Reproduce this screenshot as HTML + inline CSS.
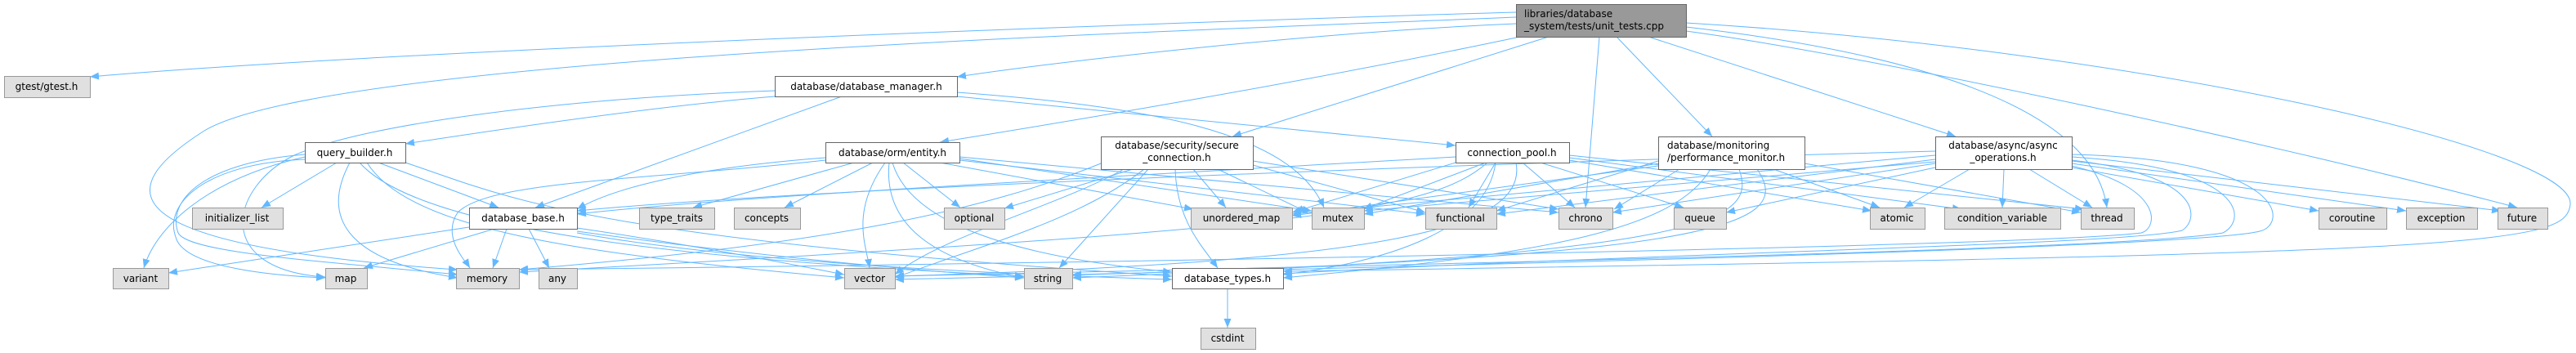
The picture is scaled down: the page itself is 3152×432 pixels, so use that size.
<!DOCTYPE html>
<html><head><meta charset="utf-8"><style>
html,body{margin:0;padding:0;background:#fff;}
svg{display:block;}
text{font-family:"DejaVu Sans","Liberation Sans",sans-serif;font-size:12px;fill:#000;}
.e{fill:none;stroke:#63b8ff;stroke-width:1;marker-end:url(#a);}
.g{fill:#e0e0e0;stroke:#999;}
.w{fill:#fff;stroke:#666;}
</style></head><body>
<svg width="3152" height="432" viewBox="0 0 3152 432" xmlns="http://www.w3.org/2000/svg">
<defs><marker id="a" markerUnits="userSpaceOnUse" markerWidth="12" markerHeight="10" refX="11" refY="5" orient="auto"><path d="M0,0.5 L11,5 L0,9.5 z" fill="#63b8ff"/></marker></defs>
<g>
<path class="e" d="M1855,15 C1500,25 500,60 110,94"/>
<path class="e" d="M1855,21 C1400,40 400,70 250,160 C140,230 120,300 560,330"/>
<path class="e" d="M1855,29 C1600,40 1300,75 1171,94"/>
<path class="e" d="M1860,45 C1600,100 1300,150 1150,174"/>
<path class="e" d="M1895,45 L1508,167"/>
<path class="e" d="M1957,45 L1940,254"/>
<path class="e" d="M1978,45 L2095,167"/>
<path class="e" d="M2017,45 L2393,167"/>
<path class="e" d="M2063,33 C2300,60 2560,120 2578,254"/>
<path class="e" d="M2063,38 C2300,70 2800,180 3080,254"/>
<path class="e" d="M2063,28 C2600,60 3150,180 3145,250 C3140,300 3050,310 1570,332"/>
<path class="e" d="M948,118 C800,130 600,160 496,176"/>
<path class="e" d="M948,111 C700,120 450,150 360,190 C280,230 260,330 398,339"/>
<path class="e" d="M1030,118 L655,254"/>
<path class="e" d="M1171,118 L1781,178"/>
<path class="e" d="M1171,113 C1400,130 1580,160 1620,254"/>
<path class="e" d="M412,199 L320,254"/>
<path class="e" d="M373,192 C250,220 190,280 176,328"/>
<path class="e" d="M373,195 C250,200 200,250 215,290 C225,330 350,338 398,340"/>
<path class="e" d="M373,189 C240,200 205,250 218,285 C230,310 400,320 560,336"/>
<path class="e" d="M428,199 C390,270 430,320 560,340"/>
<path class="e" d="M463,199 L610,254"/>
<path class="e" d="M449,199 C500,280 700,310 1033,340"/>
<path class="e" d="M440,199 C520,290 900,320 1253,338"/>
<path class="e" d="M496,199 C620,240 700,290 1434,338"/>
<path class="e" d="M574,278 L206,334"/>
<path class="e" d="M605,280 L445,328"/>
<path class="e" d="M620,280 L603,328"/>
<path class="e" d="M647,280 L672,328"/>
<path class="e" d="M706,279 C850,300 950,320 1033,336"/>
<path class="e" d="M706,283 C900,310 1100,330 1253,340"/>
<path class="e" d="M706,285 C900,320 1200,335 1434,342"/>
<path class="e" d="M1010,193 C850,205 750,230 706,256"/>
<path class="e" d="M1045,199 L848,254"/>
<path class="e" d="M1068,199 L960,254"/>
<path class="e" d="M1105,199 L1175,254"/>
<path class="e" d="M1150,199 L1460,256"/>
<path class="e" d="M1083,199 C1040,260 1060,300 1064,328"/>
<path class="e" d="M1088,199 C1080,280 1150,320 1253,340"/>
<path class="e" d="M1092,199 C1110,260 1200,310 1434,333"/>
<path class="e" d="M1010,196 C800,220 600,220 560,260 C540,290 570,320 575,328"/>
<path class="e" d="M1174,196 L1744,262"/>
<path class="e" d="M1174,194 L1605,258"/>
<path class="e" d="M1174,192 L1907,260"/>
<path class="e" d="M1386,207 L1229,255"/>
<path class="e" d="M1375,207 C1300,250 1150,290 1095,336"/>
<path class="e" d="M1400,207 C1320,270 1200,300 1095,340"/>
<path class="e" d="M1405,207 L1296,328"/>
<path class="e" d="M1438,207 C1440,270 1470,300 1490,328"/>
<path class="e" d="M1460,207 L1500,254"/>
<path class="e" d="M1490,207 L1600,260"/>
<path class="e" d="M1347,200 C1200,260 1000,300 635,330"/>
<path class="e" d="M1533,202 L1744,260"/>
<path class="e" d="M1533,197 L1907,256"/>
<path class="e" d="M1781,192 C1300,220 900,240 706,262"/>
<path class="e" d="M1818,199 L1668,256"/>
<path class="e" d="M1830,199 L1797,254"/>
<path class="e" d="M1863,199 L1927,254"/>
<path class="e" d="M1885,199 L2060,254"/>
<path class="e" d="M1820,199 C1750,260 1600,280 635,333"/>
<path class="e" d="M1855,199 C1870,280 1700,320 1095,338"/>
<path class="e" d="M1920,196 L2290,258"/>
<path class="e" d="M1920,193 L2400,256"/>
<path class="e" d="M1920,190 L2550,256"/>
<path class="e" d="M1781,199 L1581,260"/>
<path class="e" d="M1830,199 C1820,280 1700,320 1570,336"/>
<path class="e" d="M2055,207 L1975,256"/>
<path class="e" d="M2029,197 L1831,258"/>
<path class="e" d="M2029,200 L1669,262"/>
<path class="e" d="M2029,203 L1581,264"/>
<path class="e" d="M2093,207 C2050,280 1900,310 1570,340"/>
<path class="e" d="M2128,207 C2150,270 2100,310 1312,340"/>
<path class="e" d="M2150,207 C2200,280 2100,320 1095,342"/>
<path class="e" d="M2170,207 L2300,254"/>
<path class="e" d="M2208,200 L2546,260"/>
<path class="e" d="M2368,185 C1800,200 1000,230 706,258"/>
<path class="e" d="M2368,195 L1831,262"/>
<path class="e" d="M2368,200 L1973,260"/>
<path class="e" d="M2368,205 L2112,260"/>
<path class="e" d="M2368,198 L1669,258"/>
<path class="e" d="M2368,190 L1581,262"/>
<path class="e" d="M2410,207 L2330,254"/>
<path class="e" d="M2452,207 L2450,254"/>
<path class="e" d="M2483,207 L2560,254"/>
<path class="e" d="M2535,205 L2837,258"/>
<path class="e" d="M2535,200 L2944,258"/>
<path class="e" d="M2535,197 L3060,258"/>
<path class="e" d="M2535,203 C2650,230 2640,280 2620,285 C2500,300 1500,320 635,330"/>
<path class="e" d="M2535,196 C2700,215 2690,270 2670,282 C2600,300 2000,310 1570,335"/>
<path class="e" d="M2535,192 C2750,205 2750,270 2720,285 C2600,305 1900,320 1095,338"/>
<path class="e" d="M2535,189 C2800,195 2800,275 2765,283 C2700,300 2000,320 1312,336"/>
<path class="e" d="M1502,353 L1502,401"/>
</g>
<g>
<rect x="1855.5" y="5.5" width="208" height="40" fill="#999" stroke="#666"/>
<text x="1865" y="21">libraries/database</text>
<text x="1865" y="36">_system/tests/unit_tests.cpp</text>

<rect class="g" x="5.5" y="93.5" width="105" height="26"/><text x="57" y="110" text-anchor="middle">gtest/gtest.h</text>
<rect class="w" x="948.5" y="93.5" width="223" height="25"/><text x="1060" y="110" text-anchor="middle">database/database_manager.h</text>
<rect class="w" x="373.5" y="174.5" width="123" height="25"/><text x="434" y="191" text-anchor="middle">query_builder.h</text>
<rect class="w" x="1010.5" y="174.5" width="164" height="25"/><text x="1092" y="191" text-anchor="middle">database/orm/entity.h</text>
<rect class="w" x="1347.5" y="167.5" width="186" height="40"/><text x="1440" y="182" text-anchor="middle">database/security/secure</text><text x="1440" y="197" text-anchor="middle">_connection.h</text>
<rect class="w" x="1781.5" y="174.5" width="139" height="25"/><text x="1850" y="191" text-anchor="middle">connection_pool.h</text>
<rect class="w" x="2029.5" y="167.5" width="179" height="40"/><text x="2040" y="182">database/monitoring</text><text x="2040" y="197">/performance_monitor.h</text>
<rect class="w" x="2368.5" y="167.5" width="167" height="40"/><text x="2451" y="182" text-anchor="middle">database/async/async</text><text x="2451" y="197" text-anchor="middle">_operations.h</text>

<rect class="g" x="235.5" y="254.5" width="111" height="26"/><text x="290" y="271" text-anchor="middle">initializer_list</text>
<rect class="w" x="574.5" y="254.5" width="132" height="26"/><text x="640" y="271" text-anchor="middle">database_base.h</text>
<rect class="g" x="782.5" y="254.5" width="92" height="26"/><text x="828" y="271" text-anchor="middle">type_traits</text>
<rect class="g" x="898.5" y="254.5" width="81" height="26"/><text x="938" y="271" text-anchor="middle">concepts</text>
<rect class="g" x="1155.5" y="254.5" width="74" height="26"/><text x="1192" y="271" text-anchor="middle">optional</text>
<rect class="g" x="1457.5" y="254.5" width="124" height="26"/><text x="1519" y="271" text-anchor="middle">unordered_map</text>
<rect class="g" x="1605.5" y="254.5" width="64" height="26"/><text x="1637" y="271" text-anchor="middle">mutex</text>
<rect class="g" x="1744.5" y="254.5" width="87" height="26"/><text x="1787" y="271" text-anchor="middle">functional</text>
<rect class="g" x="1907.5" y="254.5" width="66" height="26"/><text x="1940" y="271" text-anchor="middle">chrono</text>
<rect class="g" x="2048.5" y="254.5" width="64" height="26"/><text x="2080" y="271" text-anchor="middle">queue</text>
<rect class="g" x="2288.5" y="254.5" width="67" height="26"/><text x="2321" y="271" text-anchor="middle">atomic</text>
<rect class="g" x="2379.5" y="254.5" width="142" height="26"/><text x="2450" y="271" text-anchor="middle">condition_variable</text>
<rect class="g" x="2546.5" y="254.5" width="65" height="26"/><text x="2578" y="271" text-anchor="middle">thread</text>
<rect class="g" x="2837.5" y="254.5" width="83" height="26"/><text x="2878" y="271" text-anchor="middle">coroutine</text>
<rect class="g" x="2944.5" y="254.5" width="87" height="26"/><text x="2987" y="271" text-anchor="middle">exception</text>
<rect class="g" x="3056.5" y="254.5" width="61" height="26"/><text x="3086" y="271" text-anchor="middle">future</text>

<rect class="g" x="138.5" y="328.5" width="68" height="25"/><text x="172" y="345" text-anchor="middle">variant</text>
<rect class="g" x="398.5" y="328.5" width="51" height="25"/><text x="423" y="345" text-anchor="middle">map</text>
<rect class="g" x="558.5" y="328.5" width="77" height="25"/><text x="596" y="345" text-anchor="middle">memory</text>
<rect class="g" x="659.5" y="328.5" width="47" height="25"/><text x="682" y="345" text-anchor="middle">any</text>
<rect class="g" x="1033.5" y="328.5" width="62" height="25"/><text x="1064" y="345" text-anchor="middle">vector</text>
<rect class="g" x="1253.5" y="328.5" width="59" height="25"/><text x="1282" y="345" text-anchor="middle">string</text>
<rect class="w" x="1434.5" y="328.5" width="136" height="25"/><text x="1502" y="345" text-anchor="middle">database_types.h</text>
<rect class="g" x="1469.5" y="401.5" width="67" height="26"/><text x="1502" y="418" text-anchor="middle">cstdint</text>
</g>
</svg>
</body></html>
